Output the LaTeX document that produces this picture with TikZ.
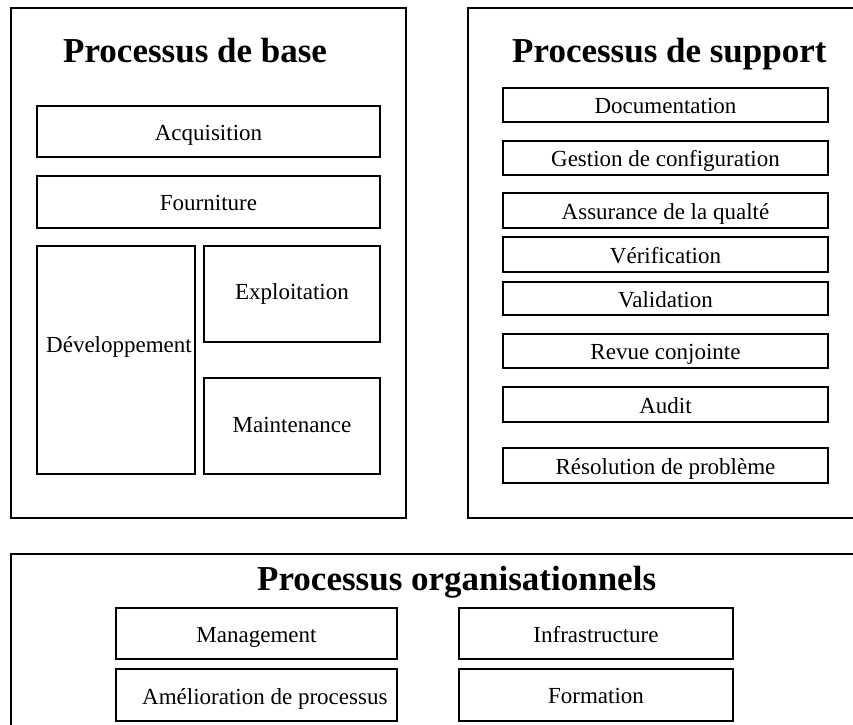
\documentclass[tikz,border=0pt]{standalone}
\usepackage{fontspec}
\setmainfont{Liberation Serif}
\begin{document}
\begin{tikzpicture}[x=1pt,y=-1pt,
  bx/.style={draw, line width=1.2pt, inner sep=0pt, outer sep=0pt,
    font=\fontsize{23}{27}\selectfont, text height=17pt, text depth=0pt},
  lbl/.style={inner sep=0pt, font=\fontsize{23}{27}\selectfont, anchor=base west},
  ttl/.style={inner sep=0pt, font=\fontsize{35}{40}\selectfont\bfseries, anchor=base west},
  frame/.style={draw, line width=1.2pt, inner sep=0pt, outer sep=0pt}]
\useasboundingbox (0,0) rectangle (853,724);
\clip (0,0) rectangle (853,724);
% outer frames
\node[frame, minimum width=395pt, minimum height=510pt] (outerL) at (208.5,263) {};
\node[frame, minimum width=420pt, minimum height=510pt] (outerR) at (678,263) {};
\node[frame, minimum width=900pt, minimum height=200pt] (outerB) at (461,654) {};
% titles
\node[ttl] (tL) at (63,62) {Processus de base};
\node[ttl] (tR) at (512,62) {Processus de support};
\node[ttl] (tB) at (257,590) {Processus organisationnels};
% left boxes
\node[bx, minimum width=343pt, minimum height=51pt] (acq) at (208.5,131.5) {Acquisition};
\node[bx, minimum width=343pt, minimum height=52pt] (four) at (208.5,202) {Fourniture};
\node[bx, minimum width=158pt, minimum height=228pt] (dev) at (116,360) {};
\node[lbl] (devt) at (46,352) {Développement};
\node[bx, minimum width=176pt, minimum height=96pt, text height=11pt] (expl) at (292,294) {Exploitation};
\node[bx, minimum width=176pt, minimum height=96pt, text height=12pt] (maint) at (292,426) {Maintenance};
% right boxes
\node[bx, minimum width=325pt, minimum height=34pt] (doc) at (665.5,105) {Documentation};
\node[bx, minimum width=325pt, minimum height=34pt] (gest) at (665.5,158) {Gestion de configuration};
\node[bx, minimum width=325pt, minimum height=35pt] (assu) at (665.5,210.5) {Assurance de la qualté};
\node[bx, minimum width=325pt, minimum height=35pt] (veri) at (665.5,254.5) {Vérification};
\node[bx, minimum width=325pt, minimum height=33pt] (vali) at (665.5,298.5) {Validation};
\node[bx, minimum width=325pt, minimum height=34pt] (revue) at (665.5,351) {Revue conjointe};
\node[bx, minimum width=325pt, minimum height=35pt] (audit) at (665.5,404.5) {Audit};
\node[bx, minimum width=325pt, minimum height=35pt] (reso) at (665.5,465.5) {Résolution de problème};
% bottom boxes
\node[bx, minimum width=281pt, minimum height=51pt] (mgmt) at (256.5,633.5) {Management};
\node[bx, minimum width=281pt, minimum height=52pt] (amel) at (256.5,695) {};
\node[lbl] (amelt) at (142,704) {Amélioration de processus};
\node[bx, minimum width=274pt, minimum height=51pt] (infra) at (596,633.5) {Infrastructure};
\node[bx, minimum width=274pt, minimum height=52pt] (form) at (596,695) {Formation};
\end{tikzpicture}
\end{document}
